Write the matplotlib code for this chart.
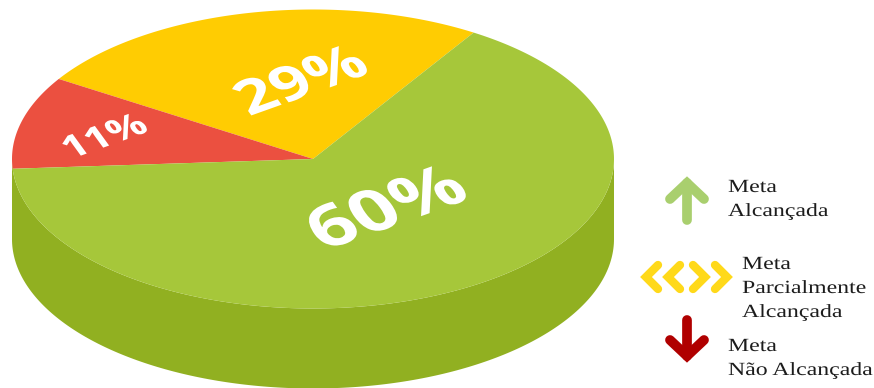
import numpy as np
import matplotlib
matplotlib.use("Agg")
import matplotlib.pyplot as plt
from matplotlib.font_manager import FontProperties
from matplotlib.patches import PathPatch
from matplotlib.text import Text
from matplotlib.textpath import TextPath
from matplotlib.transforms import Affine2D

# slices, counter-clockwise from the green/yellow order of the disc
values = [29, 11, 60]
labels = ["29%", "11%", "60%"]
colors = ["#FFCC02", "#EB5040", "#A6C73A"]
legend_labels = [["Meta", "Alcançada"],
                 ["Meta", "Parcialmente", "Alcançada"],
                 ["Meta", "Não Alcançada"]]

SIDE_COLOR = "#91B021"
CX, CY = 313, 159
RX, RY = 301, 149.5
DEPTH = 80
START = 49.0
WARP, WARP_PHASE = 9.5, 296.0


def disc_angle(theta):
    # perspective stretches the near part of the disc and shrinks the far part
    return theta + WARP * np.sin(np.radians(theta - WARP_PHASE))


def ellipse_xy(theta, dy=0):
    t = np.radians(disc_angle(theta))
    return CX + RX * np.cos(t), CY - RY * np.sin(t) + dy


class WarpedText(Text):
    """Text whose glyphs go through an affine map (rotate, then scale x and y)."""

    def __init__(self, x, y, text, size, family, weight="normal", angle=0,
                 sx=1, sy=1, centered=False, **kw):
        super().__init__(x, y, text, fontsize=size * 0.6, family=family, **kw)
        self.glyph_size = size
        self.glyph_prop = FontProperties(family=family, weight=weight)
        self.angle, self.sx, self.sy, self.centered = angle, sx, sy, centered

    def draw(self, renderer):
        path = TextPath((0, 0), self.get_text(), size=self.glyph_size, prop=self.glyph_prop)
        tr = Affine2D()
        if self.centered:
            box = path.get_extents()
            tr.translate(-box.x0 - box.width / 2, -box.y0 - box.height / 2)
        x, y = self.get_position()
        tr.rotate_deg(self.angle).scale(self.sx, -self.sy).translate(x, y)
        patch = PathPatch(path, fc=self.get_color(), ec="none",
                          transform=tr + self.axes.transData)
        patch.set_figure(self.get_figure())
        patch.draw(renderer)


def draw_pie(ax):
    # side wall first, the lower half of the ellipse pushed down
    t = np.radians(np.linspace(180, 360, 200))
    x = CX + RX * np.cos(t)
    y = CY - RY * np.sin(t)
    ax.fill(np.r_[x, x[::-1]], np.r_[y, y[::-1] + DEPTH], color=SIDE_COLOR, lw=0)

    start = START
    for value, color in zip(values, colors):
        sweep = value * 3.6
        t = np.linspace(start, start + sweep, 300)
        x, y = ellipse_xy(t)
        ax.fill(np.r_[CX, x], np.r_[CY, y], color=color, lw=0)
        start += sweep


def draw_arrow(ax, x, tail, tip, color):
    head = 16 if tip < tail else -16
    ax.plot([x, x], [tail, tip], color=color, lw=7, solid_capstyle="round")
    ax.plot([x - 17, x, x + 17], [tip + head, tip, tip + head], color=color, lw=7,
            solid_capstyle="round", solid_joinstyle="miter")


def draw_chevrons(ax, tips, y, color):
    for tip, direction in tips:
        ax.plot([tip + direction * 12, tip, tip + direction * 12], [y - 12, y, y + 12],
                color=color, lw=6, solid_capstyle="round", solid_joinstyle="miter")


fig = plt.figure(figsize=(8.74, 3.88), dpi=100)
ax = fig.add_axes([0, 0, 1, 1])
ax.set_xlim(0, 874)
ax.set_ylim(388, 0)
ax.axis("off")

draw_pie(ax)

label_pos = [(300, 79), (104, 135), (385, 206)]
label_sizes = [68, 44, 82]
for (x, y), label, size in zip(label_pos, labels, label_sizes):
    ax.add_artist(WarpedText(x, y, label, size, "Open Sans", weight="bold", angle=27,
                             sy=0.7, centered=True, color="white"))

draw_arrow(ax, 687, 220, 183, "#A9CF6E")
draw_chevrons(ax, [(646, 1), (668, 1), (705, -1), (727, -1)], 277, "#FFD91A")
draw_arrow(ax, 687, 320, 356, "#B00000")

legend_pos = [(728, 192), (742, 269), (728, 351)]
for (x, y), lines in zip(legend_pos, legend_labels):
    for i, line in enumerate(lines):
        ax.add_artist(WarpedText(x, y + i * 24, line, 18.6, "Liberation Serif",
                                 sx=1.28, color="#1C1C1C"))

fig.savefig("out.png", dpi=100)
